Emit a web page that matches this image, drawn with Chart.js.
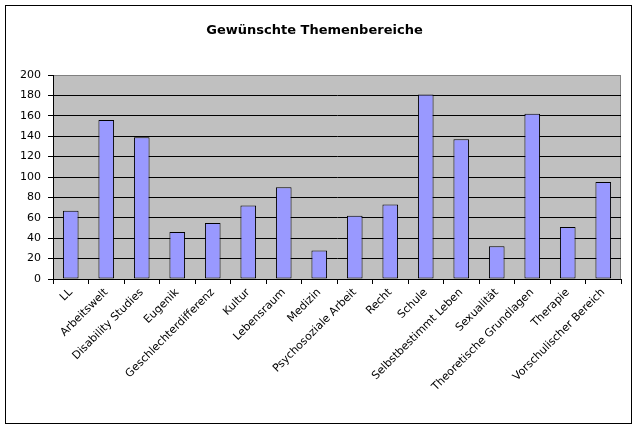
<!DOCTYPE html>
<html>
<head>
<meta charset="utf-8">
<script src="https://cdn.jsdelivr.net/npm/chart.js@4"></script>
<style>
  body { margin: 0; background: #fff; }
  #wrap { width: 638px; height: 430px; }
</style>
</head>
<body>
<div id="wrap"><canvas id="chart" width="638" height="430"></canvas></div>
<script>
const categories = [
  "LL", "Arbeitswelt", "Disability Studies", "Eugenik", "Geschlechterdifferenz",
  "Kultur", "Lebensraum", "Medizin", "Psychosoziale Arbeit", "Recht", "Schule",
  "Selbstbestimmt Leben", "Sexualität", "Theoretische Grundlagen", "Therapie",
  "Vorschulischer Bereich"
];
const counts = [67, 156, 139, 46, 55, 72, 90, 28, 62, 73, 181, 137, 32, 162, 51, 95];
const yTicks = [0, 20, 40, 60, 80, 100, 120, 140, 160, 180, 200];

// grey plot area + outer frame, like the old Excel chart
const excelLook = {
  id: "excelLook",
  beforeDraw(chart) {
    const { ctx, chartArea: a } = chart;
    ctx.save();
    ctx.fillStyle = "#fff";
    ctx.fillRect(0, 0, chart.width, chart.height);
    ctx.fillStyle = "#c0c0c0";
    ctx.fillRect(a.left, a.top, a.right - a.left, a.bottom - a.top);
    ctx.strokeStyle = "#808080";
    ctx.lineWidth = 1;
    ctx.strokeRect(a.left + 0.5, a.top + 0.5, a.right - a.left - 1, a.bottom - a.top);
    ctx.strokeStyle = "#000";
    ctx.strokeRect(5.5, 5.5, 626, 418);
    ctx.restore();
  }
};

const axisFont = { family: "DejaVu Sans", size: 11 };

new Chart(document.getElementById("chart"), {
  type: "bar",
  data: {
    labels: categories,
    datasets: [{
      data: counts,
      backgroundColor: "#9999ff",
      borderColor: "#000",
      borderWidth: 1,
      borderSkipped: false,
      categoryPercentage: 1,
      barPercentage: 0.44
    }]
  },
  options: {
    responsive: false,
    animation: false,
    layout: { padding: { left: 8, right: 17, top: 0, bottom: 6 } },
    plugins: {
      legend: { display: false },
      tooltip: { enabled: false },
      title: {
        display: true,
        text: "Gewünschte Themenbereiche",
        color: "#000",
        font: { family: "DejaVu Sans", size: 13, weight: "bold", lineHeight: 1.2 },
        padding: { top: 23, bottom: 36.4 }
      }
    },
    scales: {
      x: {
        grid: { drawOnChartArea: false, color: "#000", tickLength: 5, offset: true },
        border: { color: "#000" },
        ticks: {
          color: "#000",
          font: axisFont,
          maxRotation: 45,
          minRotation: 45,
          autoSkip: false,
          padding: 2
        },
        afterFit(scale) { scale.height = 145; }
      },
      y: {
        min: 0,
        max: 200,
        afterBuildTicks(scale) { scale.ticks = yTicks.map(v => ({ value: v })); },
        grid: {
          color: ctx => (ctx.tick && ctx.tick.value === 200 ? "#808080" : "#000"),
          tickColor: "#000",
          tickLength: 5
        },
        border: { color: "#000" },
        ticks: {
          color: "#000",
          font: axisFont,
          padding: 7
        },
        afterFit(scale) { scale.width = 45; }
      }
    }
  },
  plugins: [excelLook]
});
</script>
</body>
</html>
